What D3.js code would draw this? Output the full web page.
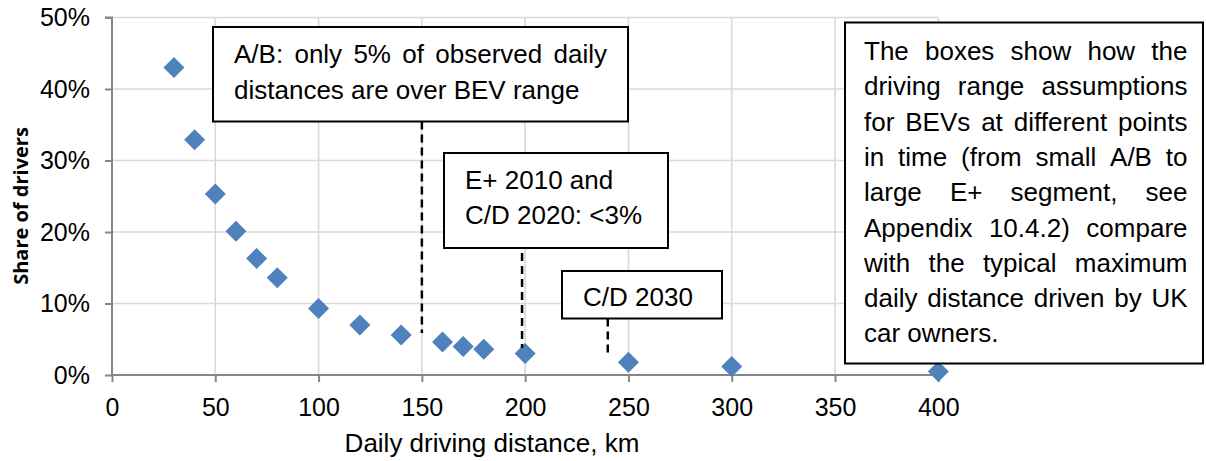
<!DOCTYPE html>
<html>
<head>
<meta charset="utf-8">
<script src="https://cdn.jsdelivr.net/npm/d3@7"></script>
<style>
  html, body { margin: 0; padding: 0; background: #fff; }
  svg { display: block; }
  text { font-family: "Liberation Sans", Arial, sans-serif; fill: #000; }
</style>
</head>
<body>
<svg id="chart" width="1206" height="461"></svg>
<script>
// ---- data ----
const distances = [30, 40, 50, 60, 70, 80, 100, 120, 140, 160, 170, 180, 200, 250, 300, 400];
const shares = [0.430, 0.329, 0.253, 0.201, 0.163, 0.136, 0.093, 0.070, 0.056, 0.046, 0.040, 0.036, 0.030, 0.018, 0.012, 0.005];
const xTicks = [0, 50, 100, 150, 200, 250, 300, 350, 400];
const yTicks = [0, 0.1, 0.2, 0.3, 0.4, 0.5];
const xTitle = "Daily driving distance, km";
const yTitle = "Share of drivers";
// annotation callouts: range value marked by the dashed leader
const calloutValues = [150, 198.5, 240];
const calloutLines = [
  ["A/B: only 5% of observed daily", "distances are over BEV range"],
  ["E+ 2010 and", "C/D 2020: <3%"],
  ["C/D 2030"]
];
const noteLines = [
  "The boxes show how the",
  "driving range assumptions",
  "for BEVs at different points",
  "in time (from small A/B to",
  "large E+ segment, see",
  "Appendix 10.4.2) compare",
  "with the typical maximum",
  "daily distance driven by UK",
  "car owners."
];

// ---- layout ----
const svg = d3.select("#chart");
const x = d3.scaleLinear().domain([0, 400]).range([112, 938.3]);
const y = d3.scaleLinear().domain([0, 0.5]).range([375, 17.5]);
const gridColor = "#d9d9d9";
const axisColor = "#868686";

// gridlines
svg.append("g").selectAll("line.hg").data(yTicks.filter(d => d > 0)).join("line")
  .attr("x1", x(0)).attr("x2", x(400))
  .attr("y1", d => y(d)).attr("y2", d => y(d))
  .attr("stroke", gridColor).attr("stroke-width", 1.6);
svg.append("g").selectAll("line.vg").data(xTicks.filter(d => d > 0)).join("line")
  .attr("x1", d => x(d)).attr("x2", d => x(d))
  .attr("y1", y(0)).attr("y2", y(0.5))
  .attr("stroke", gridColor).attr("stroke-width", 1.6);

// axes
const yAxis = svg.append("g").attr("transform", `translate(${x(0)},0)`)
  .call(d3.axisLeft(y).tickValues(yTicks).tickFormat(d3.format(".0%")).tickSize(7).tickPadding(13));
const xAxis = svg.append("g").attr("transform", `translate(0,${y(0)})`)
  .call(d3.axisBottom(x).tickValues(xTicks).tickFormat(d3.format("d")).tickSize(7).tickPadding(16));
[yAxis, xAxis].forEach(g => {
  g.select(".domain").attr("stroke", axisColor).attr("stroke-width", 2);
  g.selectAll(".tick line").attr("stroke", axisColor).attr("stroke-width", 2);
  g.selectAll(".tick text").attr("font-size", 25).attr("font-family", "Liberation Sans, Arial, sans-serif").attr("fill", "#000");
});
yAxis.select(".domain").attr("d", `M-7,${y(0.5)}H0V${y(0)}`);
xAxis.select(".domain").attr("d", `M${x(0)},0H${x(400)}`);
yAxis.selectAll(".tick text").attr("dx", -2);

// axis titles
svg.append("text").attr("x", 492).attr("y", 452).attr("text-anchor", "middle")
  .attr("font-size", 26).text(xTitle);
svg.append("text").attr("transform", "translate(28,206) rotate(-90)").attr("text-anchor", "middle")
  .attr("font-size", 20).attr("font-weight", "bold")
  .style("font-family", "'Open Sans', 'Liberation Sans', sans-serif").text(yTitle);

// points
svg.append("g").selectAll("path").data(distances.map((d, i) => [d, shares[i]])).join("path")
  .attr("d", "M0,-10.5L10.5,0L0,10.5L-10.5,0Z")
  .attr("transform", d => `translate(${x(d[0])},${y(d[1])})`)
  .attr("fill", "#4f81bd");

// helper for justified text
function textLine(g, str, x0, yb, width, justify, size) {
  if (!justify) {
    g.append("text").attr("x", x0).attr("y", yb).attr("font-size", size).text(str);
    return;
  }
  const words = str.split(" ");
  const els = words.map(w => g.append("text").attr("y", yb).attr("font-size", size).text(w));
  const widths = els.map(e => e.node().getComputedTextLength());
  const total = d3.sum(widths);
  const gap = (width - total) / (words.length - 1);
  let cx = x0;
  els.forEach((e, i) => { e.attr("x", cx); cx += widths[i] + gap; });
}

// callout boxes
const boxes = [
  { l: 213, t: 27, r: 628, b: 121.5, tx: 234, base: [63, 98.5], justW: [373, 0], leadTop: 121.5, leadBot: 333 },
  { l: 444, t: 153, r: 668, b: 248, tx: 465, base: [189, 224], justW: [0, 0], leadTop: 253, leadBot: 348 },
  { l: 562, t: 271, r: 722, b: 318.5, tx: 583, base: [306], justW: [0], leadTop: 318.5, leadBot: 357 }
];
boxes.forEach((bx, i) => {
  const g = svg.append("g");
  g.append("rect").attr("x", bx.l).attr("y", bx.t).attr("width", bx.r - bx.l).attr("height", bx.b - bx.t)
    .attr("fill", "#fff").attr("stroke", "#000").attr("stroke-width", 2);
  calloutLines[i].forEach((ln, j) => textLine(g, ln, bx.tx, bx.base[j], bx.justW[j], bx.justW[j] > 0, 26));
  g.append("line").attr("x1", x(calloutValues[i])).attr("x2", x(calloutValues[i]))
    .attr("y1", bx.leadTop).attr("y2", bx.leadBot)
    .attr("stroke", "#000").attr("stroke-width", 2.5).attr("stroke-dasharray", "8,5");
});

// explanatory note box
const ng = svg.append("g");
ng.append("rect").attr("x", 845).attr("y", 22.5).attr("width", 358).attr("height", 341)
  .attr("fill", "#fff").attr("stroke", "#000").attr("stroke-width", 2);
noteLines.forEach((ln, j) => textLine(ng, ln, 864, 60 + j * 35.3, 323.5, j < noteLines.length - 1, 26));
</script>
</body>
</html>
